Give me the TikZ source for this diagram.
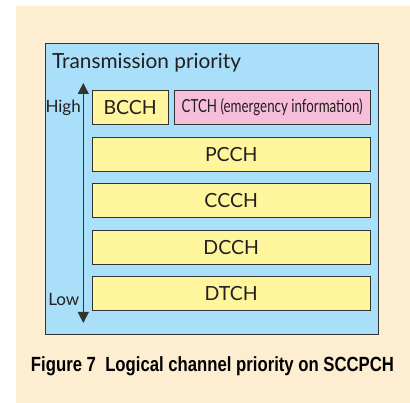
\documentclass[tikz,border=0pt]{standalone}
\usepackage{fontspec}
\usepackage{graphicx}
\setmainfont{Lato}
\newfontfamily\capfont{Liberation Sans}
\usetikzlibrary{positioning,arrows.meta}
\definecolor{panelbg}{HTML}{FDEED2}
\definecolor{prioblue}{HTML}{A9DFF9}
\definecolor{chanyellow}{HTML}{FFF59D}
\definecolor{chanpink}{HTML}{F6BED8}
\definecolor{edgegray}{HTML}{333333}
\definecolor{inkgray}{HTML}{231F20}

\begin{document}
\begin{tikzpicture}[x=1pt,y=-1pt,
    chan/.style={draw=edgegray, line width=1pt, fill=chanyellow, minimum height=34pt,
      inner sep=0pt, text=inkgray, font=\fontsize{19.5}{22}\selectfont},
    prio/.style={text=inkgray, inner sep=0pt, font=\fontsize{17}{20}\selectfont}]
  \useasboundingbox (0,0) rectangle (410,403);
  \fill [panelbg] (16,6) rectangle (410,403);
  \draw [edgegray, fill=prioblue, line width=1pt] (45,44) rectangle (378,335);
  \node [anchor=base west, inner sep=0pt, text=inkgray, font=\fontsize{20.8}{24}\selectfont] (title) at (52,68.3) {Transmission priority};

  % channels, highest priority first
  \node [chan, anchor=north west, minimum width=76pt] (bcch) at (91.7,90) {BCCH};
  \node [chan, anchor=north west, minimum width=196pt, fill=chanpink] (ctch) at (173.7,90)
    {\fontsize{18}{20}\selectfont\resizebox{181pt}{\height}{CTCH (emergency information)}};
  \node [chan, minimum width=278pt, below right=11.6pt and 0pt of bcch.south west] (pcch) {PCCH};
  \node [chan, minimum width=278pt, below right=11.6pt and 0pt of pcch.south west] (ccch) {CCCH};
  \node [chan, minimum width=278pt, below right=11.6pt and 0pt of ccch.south west] (dcch) {DCCH};
  \node [chan, minimum width=278pt, below right=11.6pt and 0pt of dcch.south west] (dtch) {DTCH};

  % priority axis
  \coordinate (hi) at (83.3,83);
  \coordinate (lo) at (83.3,323);
  \draw [{Triangle[length=11pt,width=11pt]}-{Triangle[length=11pt,width=11pt]}, edgegray, line width=1pt] (hi) -- (lo);
  \node [prio, anchor=base east] (high) at (81,112.7) {High};
  \node [prio, anchor=base east] (low) at (79.5,306) {Low};

  \node [anchor=base, inner sep=0pt, text=black] (caption) at (212.5,371.7)
    {\capfont\bfseries\fontsize{20.5}{24}\selectfont\resizebox{363pt}{\height}{Figure 7\ \ Logical channel priority on SCCPCH}};
\end{tikzpicture}
\end{document}
